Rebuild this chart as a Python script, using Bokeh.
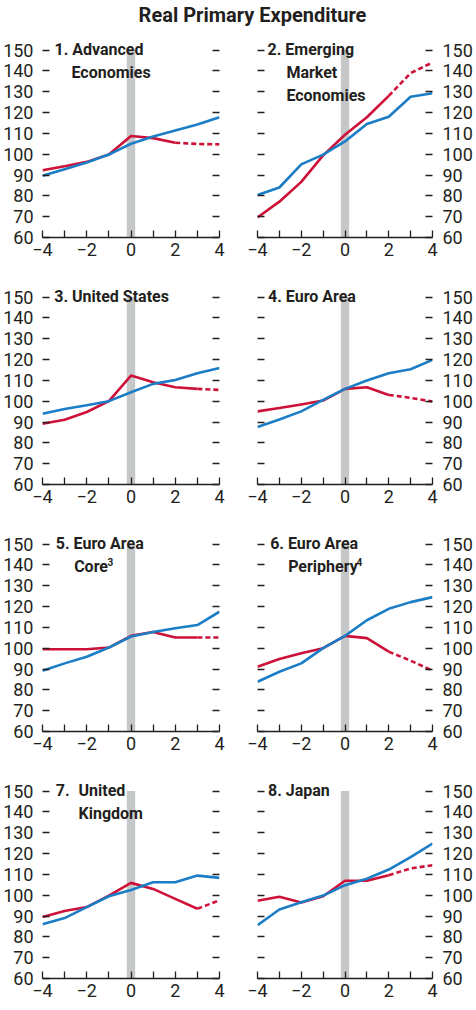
from bokeh.plotting import figure
from bokeh.layouts import column, row
from bokeh.models import Range1d, LinearAxis, FixedTicker
from bokeh.core.properties import value
from bokeh.embed import file_html
from bokeh.resources import INLINE

# ---------------- data ----------------
years = [-4, -3, -2, -1, 0, 1, 2, 3, 4]
x_tick_labels = {-4: "\u22124", -2: "\u22122", 0: "0", 2: "2", 4: "4"}
y_ticks = [60, 70, 80, 90, 100, 110, 120, 130, 140, 150]

adv_red = [92.3, 94.2, 96.3, 99.8, 108.7, 107.7, 105.5, 104.9, 104.7]
adv_blue = [89.6, 92.8, 96.0, 99.8, 105.0, 108.5, 111.4, 114.2, 117.7]
em_red = [69.6, 77.2, 86.7, 99.4, 109.3, 117.7, 128.0, 138.9, 144.0]
em_blue = [80.4, 84.0, 95.1, 99.8, 106.1, 114.5, 118.0, 127.6, 129.2]
us_red = [89.2, 91.1, 94.8, 100.0, 112.3, 109.1, 106.7, 105.9, 105.4]
us_blue = [94.0, 96.2, 98.0, 100.0, 104.3, 108.3, 110.2, 113.4, 115.9]
ea_red = [95.1, 96.7, 98.4, 100.3, 105.9, 106.7, 103.0, 101.6, 99.8]
ea_blue = [87.6, 91.2, 95.1, 100.6, 105.9, 109.9, 113.4, 115.3, 119.8]
core_red = [99.5, 99.5, 99.5, 100.3, 105.9, 107.8, 105.1, 105.1, 105.1]
core_blue = [89.2, 92.7, 95.9, 100.3, 105.6, 107.8, 109.6, 111.1, 117.5]
peri_red = [91.1, 94.8, 97.6, 100.0, 105.9, 104.8, 98.3, 94.0, 89.2]
peri_blue = [83.9, 88.7, 92.7, 100.0, 105.9, 113.4, 118.9, 122.1, 124.5]
uk_red = [89.5, 92.4, 94.3, 99.8, 105.9, 103.0, 98.2, 93.5, 97.5]
uk_blue = [86.0, 89.0, 94.3, 99.5, 102.5, 106.2, 106.2, 109.4, 108.3]
jp_red = [97.3, 99.2, 96.5, 99.5, 106.9, 106.9, 109.6, 112.8, 114.4]
jp_blue = [85.6, 93.1, 96.6, 99.8, 104.8, 107.9, 112.3, 118.3, 124.8]

# year from which the red series is dashed (projection)
dash_from = [2, 2, 3, 2, 3, 2, 3, 2]

event_band = (-0.19, 0.19, 60, 150)

FONT = "Roboto"
RED = "#CE1138"
BLUE = "#1B7DC6"
GREY = "#C6C7C9"
INK = "#231F20"


def y_axis(labels, standoff):
    ax = LinearAxis(ticker=FixedTicker(ticks=y_ticks, minor_ticks=[]),
                    axis_line_color=None,
                    major_tick_in=7, major_tick_out=0,
                    major_tick_line_color=INK, major_tick_line_width=1.3,
                    minor_tick_line_color=None,
                    major_label_text_font=FONT,
                    major_label_text_font_size="18px",
                    major_label_text_color=INK,
                    major_label_standoff=standoff if labels else 0)
    if not labels:
        ax.major_label_overrides = {t: "" for t in y_ticks}
    return ax


def panel(side, red, blue, dfrom, lines, sup=None, last=False):
    left = side == "left"
    p = figure(frame_width=177 if left else 175, frame_height=200,
               x_range=Range1d(-4, 4), y_range=Range1d(60, 156),
               x_axis_location="below", y_axis_location=None,
               min_border_left=37 if left else 24,
               min_border_right=14 if left else 36,
               min_border_top=1, min_border_bottom=26 if last else 46,
               outline_line_color=None, toolbar_location=None,
               output_backend="svg")
    p.grid.visible = False
    p.add_layout(y_axis(left, 9), "left")
    p.add_layout(y_axis(not left, 10), "right")

    xa = p.xaxis[0]
    xa.ticker = FixedTicker(ticks=[-4, -2, 0, 2, 4], minor_ticks=[-3, -1, 1, 3])
    xa.major_label_overrides = x_tick_labels
    xa.axis_line_color = INK
    xa.axis_line_width = 1.6
    xa.major_tick_in = 7
    xa.major_tick_out = 0
    xa.minor_tick_in = 7
    xa.minor_tick_out = 0
    xa.major_tick_line_color = INK
    xa.minor_tick_line_color = INK
    xa.major_tick_line_width = 1.3
    xa.minor_tick_line_width = 1.3
    xa.major_label_text_font = FONT
    xa.major_label_text_font_size = "18px"
    xa.major_label_text_color = INK
    xa.major_label_standoff = 5

    p.quad(left=[event_band[0]], right=[event_band[1]],
           bottom=[event_band[2]], top=[event_band[3]],
           fill_color=GREY, line_color=None)

    k = years.index(dfrom)
    p.line(years[:k + 1], red[:k + 1], line_color=RED, line_width=2.6,
           line_join="round")
    p.line(years[k:], red[k:], line_color=RED, line_width=2.6,
           line_dash="5 3")
    p.line(years, blue, line_color=BLUE, line_width=2.6, line_join="round")

    xs = [l[0] for l in lines]
    ys = [l[1] for l in lines]
    ts = [l[2] for l in lines]
    p.text(x=xs, y=ys, text=ts, text_font=value(FONT),
           text_font_style="bold", text_font_size="16px", text_color=INK,
           text_baseline="middle", text_align="left")
    if sup:
        p.text(x=[sup[0]], y=[sup[1]], text=[sup[2]], text_font=value(FONT),
               text_font_style="bold", text_font_size="10px", text_color=INK,
               text_baseline="middle", text_align="left")
    return p


L1, L2, L3 = 150.4, 139.2, 128.0

p1 = panel("left", adv_red, adv_blue, dash_from[0],
           [(-3.46, L1, "1. Advanced"), (-2.69, L2, "Economies")])
p2 = panel("right", em_red, em_blue, dash_from[1],
           [(-3.54, L1, "2. Emerging"), (-2.68, L2, "Market"),
            (-2.68, L3, "Economies")])
p3 = panel("left", us_red, us_blue, dash_from[2],
           [(-3.47, L1, "3. United States")])
p4 = panel("right", ea_red, ea_blue, dash_from[3],
           [(-3.52, L1, "4. Euro Area")])
p5 = panel("left", core_red, core_blue, dash_from[4],
           [(-3.40, L1, "5. Euro Area"), (-2.57, L2, "Core")],
           sup=(-1.06, L2 + 2.4, "3"))
p6 = panel("right", peri_red, peri_blue, dash_from[5],
           [(-3.42, L1, "6. Euro Area"), (-2.60, L2, "Periphery")],
           sup=(0.52, L2 + 2.4, "4"))
p7 = panel("left", uk_red, uk_blue, dash_from[6],
           [(-3.40, L1, "7."), (-2.37, L1, "United"), (-2.37, L2, "Kingdom")],
           last=True)
p8 = panel("right", jp_red, jp_blue, dash_from[7],
           [(-3.52, L1, "8. Japan")], last=True)

t = figure(frame_width=463, frame_height=36, x_range=Range1d(0, 463),
           y_range=Range1d(0, 36), x_axis_location=None, y_axis_location=None,
           min_border=0, outline_line_color=None, toolbar_location=None,
           output_backend="svg")
t.grid.visible = False
t.text(x=[252], y=[22], text=["Real Primary Expenditure"],
       text_font=value(FONT), text_font_style="bold", text_font_size="20px",
       text_color=INK, text_align="center", text_baseline="middle")

layout = column(t, row(p1, p2), row(p3, p4), row(p5, p6), row(p7, p8))
open("out.html", "w").write(file_html(layout, INLINE))
